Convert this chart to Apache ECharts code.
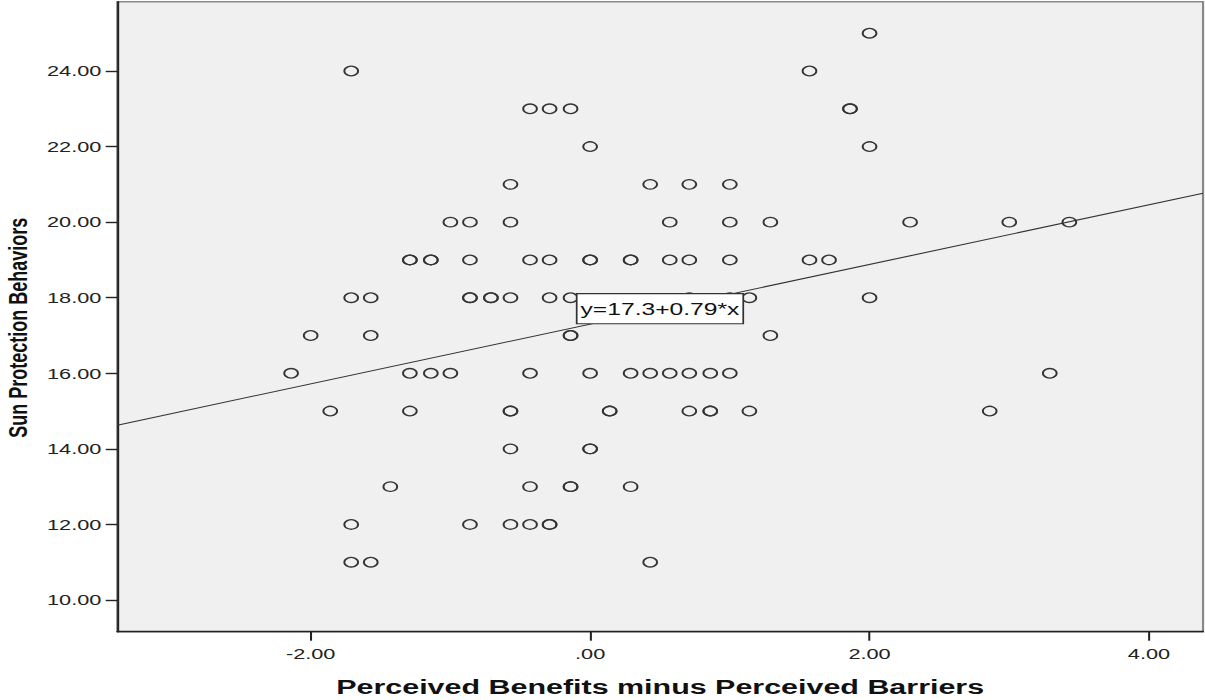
<!DOCTYPE html>
<html>
<head>
<meta charset="utf-8">
<script src="https://cdn.jsdelivr.net/npm/echarts@6/dist/echarts.min.js"></script>
<style>
  html, body { margin: 0; padding: 0; background: #ffffff; }
  #wrap { width: 1205px; height: 700px; overflow: hidden; position: relative; background: #ffffff; }
  #chart { width: 831px; height: 700px; transform: scaleX(1.45); transform-origin: 0 0; }
</style>
</head>
<body>
<div id="wrap"><div id="chart"></div></div>
<script>
// ---- data ----
const perceivedDiff = [
  2.00,
  -1.71, 1.57,
  -0.43, -0.29, -0.14, 1.86, 1.86,
  0.00, 2.00,
  -0.57, 0.43, 0.71, 1.00,
  -1.00, -0.86, -0.57, 0.57, 1.00, 1.29, 2.29, 3.00, 3.43,
  -1.29, -1.29, -1.14, -1.14, -0.86, -0.43, -0.29, 0.00, 0.00, 0.29, 0.29, 0.57, 0.71, 1.00, 1.57, 1.71,
  -1.71, -1.57, -0.86, -0.86, -0.71, -0.71, -0.57, -0.29, -0.14, 0.71, 1.00, 1.14, 2.00,
  -2.00, -1.57, -0.14, -0.14, 1.29,
  -2.14, -1.29, -1.14, -1.00, -0.43, 0.00, 0.29, 0.43, 0.57, 0.71, 0.86, 1.00, 3.29,
  -1.86, -1.29, -0.57, -0.57, 0.14, 0.14, 0.71, 0.86, 0.86, 1.14, 2.86,
  -0.57, 0.00, 0.00,
  -1.43, -0.43, -0.14, -0.14, 0.29,
  -1.71, -0.86, -0.57, -0.43, -0.29, -0.29,
  -1.71, -1.57, 0.43
];
const sunProtection = [
  25,
  24, 24,
  23, 23, 23, 23, 23,
  22, 22,
  21, 21, 21, 21,
  20, 20, 20, 20, 20, 20, 20, 20, 20,
  19, 19, 19, 19, 19, 19, 19, 19, 19, 19, 19, 19, 19, 19, 19, 19,
  18, 18, 18, 18, 18, 18, 18, 18, 18, 18, 18, 18, 18,
  17, 17, 17, 17, 17,
  16, 16, 16, 16, 16, 16, 16, 16, 16, 16, 16, 16, 16,
  15, 15, 15, 15, 15, 15, 15, 15, 15, 15, 15,
  14, 14, 14,
  13, 13, 13, 13, 13,
  12, 12, 12, 12, 12, 12,
  11, 11, 11
];
const fitIntercept = 17.3;
const fitSlope = 0.79;
const xTickValues = [-2, 0, 2, 4];
const xTickLabels = ['-2.00', '.00', '2.00', '4.00'];
const yTickValues = [10, 12, 14, 16, 18, 20, 22, 24];
const yTickLabels = ['10.00', '12.00', '14.00', '16.00', '18.00', '20.00', '22.00', '24.00'];
const xTitle = 'Perceived Benefits minus Perceived Barriers';
const yTitle = 'Sun Protection Behaviors';

// ---- layout ----
const xMin = -3.384, xMax = 4.387;
const yMin = 9.161, yMax = 25.834;

const points = perceivedDiff.map((x, i) => [x, sunProtection[i]]);
const fitLine = [[xMin, fitIntercept + fitSlope * xMin], [xMax, fitIntercept + fitSlope * xMax]];
const fitLabel = 'y=' + fitIntercept + '+' + fitSlope + '*x';

const fontFam = '"Liberation Sans", Arial, sans-serif';
const chart = echarts.init(document.getElementById('chart'), null, { renderer: 'svg' });
chart.setOption({
  animation: false,
  backgroundColor: '#ffffff',
  grid: {
    left: 80.9, right: 1.3, top: 1.7, bottom: 68.3,
    outerBoundsMode: 'none', containLabel: false,
    show: true, backgroundColor: '#f0f0f0', borderColor: '#888888', borderWidth: 1.5
  },
  xAxis: {
    type: 'value', min: xMin, max: xMax,
    name: xTitle, nameLocation: 'middle', nameGap: 45,
    nameTextStyle: { fontFamily: fontFam, fontWeight: 'bold', fontSize: 21, color: '#111111' },
    axisLine: { show: true, onZero: false, lineStyle: { color: '#222222', width: 1.4 } },
    axisTick: { show: true, customValues: xTickValues, length: 9, lineStyle: { color: '#222222', width: 1.4 } },
    axisLabel: {
      customValues: xTickValues, margin: 15, fontSize: 15, color: '#222222', fontFamily: fontFam,
      formatter: v => xTickLabels[xTickValues.indexOf(v)]
    },
    splitLine: { show: false }
  },
  yAxis: {
    type: 'value', min: yMin, max: yMax,
    name: yTitle, nameLocation: 'middle', nameGap: 55,
    nameTextStyle: { fontFamily: fontFam, fontWeight: 'bold', fontSize: 18, color: '#111111', padding: [0, 22, 0, 0] },
    axisLine: { show: true, onZero: false, lineStyle: { color: '#222222', width: 1.4 } },
    axisTick: { show: true, customValues: yTickValues, length: 8, lineStyle: { color: '#222222', width: 1.4 } },
    axisLabel: {
      customValues: yTickValues, margin: 11, fontSize: 15, color: '#222222', fontFamily: fontFam,
      formatter: v => yTickLabels[yTickValues.indexOf(v)]
    },
    splitLine: { show: false }
  },
  series: [
    {
      type: 'scatter', z: 2, silent: true,
      data: points,
      symbol: 'circle', symbolSize: 9.5,
      itemStyle: { color: 'rgba(0,0,0,0)', borderColor: '#333333', borderWidth: 1.3, opacity: 1 }
    },
    {
      type: 'line', z: 3, silent: true,
      data: fitLine, symbol: 'none',
      lineStyle: { color: '#333333', width: 1.1 },
      markPoint: {
        silent: true, z: 10,
        symbol: 'rect', symbolSize: [1, 1],
        itemStyle: { color: 'rgba(0,0,0,0)' },
        label: {
          show: true, position: 'inside', formatter: fitLabel,
          fontFamily: fontFam, fontSize: 17, color: '#111111',
          backgroundColor: '#ffffff', borderColor: '#333333', borderWidth: 1.2,
          padding: [5, 2, 4, 2], lineHeight: 20
        },
        data: [{ coord: [0.50, 17.71] }]
      }
    }
  ]
});
</script>
</body>
</html>
